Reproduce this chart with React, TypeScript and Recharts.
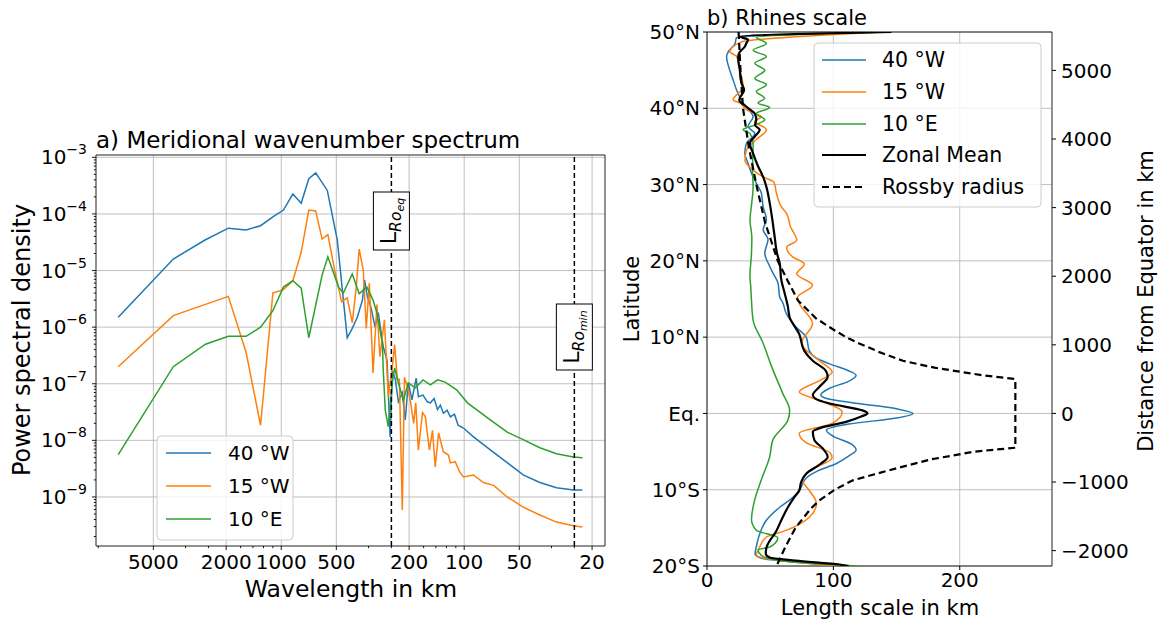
import { LineChart, Line, XAxis, YAxis, CartesianGrid, ReferenceLine, ReferenceArea } from 'recharts'

const FONT = '"DejaVu Sans", Verdana, sans-serif'
const BLUE = '#1f77b4'
const ORANGE = '#ff7f0e'
const GREEN = '#2ca02c'

// ---------- panel a: meridional wavenumber spectrum ----------
const wavelengthTicks = [5000, 2000, 1000, 500, 200, 100, 50, 20]
const psdTicks = [1e-9, 1e-8, 1e-7, 1e-6, 1e-5, 1e-4, 1e-3]
const roLengths = [250, 25]
const roNames = ['eq', 'min']
const spectrumNames = ['40 °W', '15 °W', '10 °E']

// [wavelength km, power spectral density]
const psd40W = [
  [7780, 1.5e-6], [3890, 1.6e-5], [2594, 3.5e-5], [1946, 5.6e-5], [1557, 5.2e-5], [1297, 6.2e-5],
  [1111, 8.9e-5], [973, 1.17e-4], [864, 2.25e-4], [778, 1.55e-4], [707, 4.2e-4], [648, 5.3e-4],
  [560, 2.6e-4], [494, 3.5e-5], [436, 6.5e-7], [409, 9.5e-7], [384, 1.5e-6], [360, 3.0e-6],
  [350, 6.8e-6], [338, 3.4e-6], [324, 2.3e-6], [307, 1.0e-6], [295, 1.8e-6], [277, 4.5e-7],
  [264, 2.6e-7], [254, 1.15e-8], [247, 1.7e-7], [238, 1.2e-7], [229, 4.8e-8], [218, 6.9e-8],
  [210, 2.3e-8], [202, 1.05e-7], [193, 5.2e-8], [183, 1.25e-7], [178, 5.9e-8], [168, 6.3e-8],
  [159, 4.8e-8], [153, 4.6e-8], [146, 5.5e-8], [140, 3.5e-8], [135, 4.2e-8], [130, 3.0e-8],
  [124, 3.4e-8], [119, 2.6e-8], [113, 2.9e-8], [108, 1.85e-8], [101, 1.65e-8], [89, 1.15e-8],
  [72, 6.8e-9], [58, 4.0e-9], [47.6, 2.45e-9], [38.6, 1.8e-9], [31.3, 1.45e-9], [25.3, 1.33e-9],
  [22.6, 1.33e-9],
]
const psd15W = [
  [7780, 2.0e-7], [3890, 1.6e-6], [1946, 3.5e-6], [1557, 3.6e-7], [1297, 1.85e-8], [1111, 4.0e-6],
  [973, 4.6e-6], [864, 6.6e-6], [778, 2.1e-5], [707, 1.17e-4], [648, 1.13e-4], [598, 3.6e-5],
  [556, 4.3e-5], [510, 1.0e-5], [468, 2.8e-6], [436, 3.3e-6], [409, 1.2e-6], [389, 5.1e-6],
  [375, 2.4e-5], [356, 1.0e-5], [343, 9.5e-7], [330, 6.0e-6], [315, 1.55e-7], [300, 2.5e-6],
  [289, 3.0e-7], [273, 1.35e-6], [260, 5.9e-8], [247, 2.0e-7], [240, 4.9e-7], [232, 1.2e-7],
  [226, 1.2e-7], [218, 5.9e-10], [212, 1.3e-7], [204, 8.7e-8], [196, 4.6e-8], [189, 2.0e-8],
  [184, 4.6e-8], [178, 6.7e-9], [169, 3.1e-8], [163, 2.6e-8], [155, 6.7e-9], [149, 1.5e-8],
  [144, 3.4e-9], [138, 1.35e-8], [130, 6.3e-9], [122, 5.5e-9], [119, 4.0e-9], [112, 4.2e-9],
  [106, 2.8e-9], [101, 2.25e-9], [89, 2.45e-9], [78.5, 1.8e-9], [69, 1.6e-9], [58.2, 1.0e-9],
  [47.6, 6.6e-10], [38.6, 4.8e-10], [31.3, 3.6e-10], [25.3, 3.1e-10], [22.6, 2.95e-10],
]
const psd10E = [
  [7780, 5.6e-9], [3890, 2.0e-7], [2594, 5.0e-7], [1946, 6.9e-7], [1557, 6.9e-7], [1297, 1.0e-6],
  [1111, 1.95e-6], [973, 5.1e-6], [864, 6.6e-6], [778, 4.9e-6], [707, 6.5e-7], [598, 8.3e-6],
  [556, 1.75e-5], [486, 5.1e-6], [458, 4.0e-6], [409, 8.7e-6], [375, 3.9e-6], [340, 5.1e-6],
  [315, 3.0e-6], [300, 1.8e-6], [280, 5.2e-7], [277, 1.75e-7], [270, 3.4e-8], [260, 1.75e-8],
  [247, 1.07e-7], [240, 1.9e-7], [229, 1.03e-7], [215, 5.1e-8], [202, 1.03e-7], [185, 8.5e-8],
  [168, 1.17e-7], [153, 9.6e-8], [140, 1.17e-7], [127, 1.07e-7], [110, 7.8e-8], [96, 4.6e-8],
  [72, 2.3e-8], [58.2, 1.4e-8], [47.6, 1.03e-8], [38.6, 7.4e-9], [31.3, 5.8e-9], [25.3, 5.1e-9],
  [22.6, 4.95e-9],
]

// ---------- panel b: Rhines scale ----------
const latTicks = [-20, -10, 0, 10, 20, 30, 40, 50]
const latLabels = ['20°S', '10°S', 'Eq.', '10°N', '20°N', '30°N', '40°N', '50°N']
const lengthTicks = [0, 100, 200]
const distTicks = [-2000, -1000, 0, 1000, 2000, 3000, 4000, 5000]
const rhinesNames = ['40 °W', '15 °W', '10 °E', 'Zonal Mean', 'Rossby radius']

// [latitude, length scale km]
const rhines40W = [
  [50, 142], [49.3, 23.4], [48.4, 22], [47.4, 16.8], [46.8, 15.5], [45, 18], [43.7, 20.7], [42.4, 23.4],
  [40.7, 28.6], [39.8, 33], [38.9, 36.5], [37.6, 32.5], [36.7, 37.8], [35.4, 31.2], [34.1, 29.9],
  [32.8, 32.5], [31.5, 35.2], [30.2, 39], [28.9, 43], [27.1, 44.4], [25.4, 47], [24.1, 44.4],
  [22.8, 48.3], [21, 45.7], [19.3, 49.6], [18.4, 52.2], [17.1, 56.2], [15.3, 57.5], [14.5, 60],
  [13.1, 62.7], [11.3, 70.6], [10, 78.5], [8.2, 81], [7.3, 86], [6.5, 97], [5.6, 112], [5.0, 118],
  [4.2, 112], [3.3, 97], [2.4, 90], [2.0, 94], [1.4, 115], [0.6, 150], [0, 163], [-0.6, 150],
  [-1.4, 112], [-2.2, 94.5], [-3.0, 100], [-4.0, 114], [-4.8, 118], [-5.6, 112], [-6.6, 102],
  [-7.5, 88], [-8.4, 79], [-10.1, 73], [-11, 68], [-12.3, 57.5], [-14, 47], [-15.8, 41.7],
  [-17.5, 39], [-18.4, 38], [-19, 43], [-19.5, 70], [-20, 108],
]
const rhines15W = [
  [50, 141], [48.7, 27.3], [47.4, 18], [46.8, 23.4], [45, 26], [42.8, 28.6], [41.1, 20.7], [40.7, 26],
  [39.8, 31.2], [38.9, 43], [38.3, 37.8], [37.2, 47], [35.9, 39], [34.5, 31.2], [33.2, 30],
  [31.9, 36.5], [31, 44.4], [30.3, 53], [28.9, 54.9], [27.1, 58.8], [26.2, 63], [24.5, 66],
  [22.7, 71], [21.8, 63], [20.5, 68], [19.6, 77], [18.3, 71], [16.8, 83.5], [15.2, 71.6],
  [14.4, 73], [11.8, 83.5], [9.2, 74.8], [6.9, 89], [5.4, 99], [4.3, 89], [2.8, 73], [1.7, 89],
  [0.2, 107], [-1.3, 99], [-2.6, 73], [-3.9, 79], [-5.1, 97], [-5.8, 99], [-7.5, 81], [-8.8, 75.6],
  [-10.1, 81], [-11.8, 86.6], [-13.6, 81], [-15.3, 63], [-16.2, 47], [-17.5, 41.7], [-18.6, 39],
  [-18.9, 43], [-19.5, 70], [-20, 105],
]
const rhines10E = [
  [50, 139], [49.3, 39], [48.5, 47], [47.6, 36.5], [46.8, 47], [45.9, 37.8], [45, 45.7], [43.9, 37.8],
  [43.1, 47], [42.2, 39], [41.3, 45.7], [40.7, 40.4], [40.1, 49.6], [39.3, 39], [38.5, 45.7],
  [37.8, 37.8], [37.2, 28.6], [36.7, 34], [35.4, 36.5], [32, 36], [29.7, 36.5], [27, 35], [25.4, 34],
  [23, 35.5], [21, 35.2], [18, 34], [16.6, 34.6], [14.8, 35.2], [12.2, 36.5], [9.2, 44.4], [6.2, 51],
  [2.6, 60], [0.4, 65.4], [-0.9, 64], [-3.5, 52], [-5.7, 49.6], [-8.7, 43], [-11.3, 37.8],
  [-13.9, 35.2], [-15.3, 39], [-16.3, 56], [-17, 54], [-17.5, 49.6], [-17.9, 40.4], [-18.6, 43],
  [-19.3, 60], [-20, 119],
]
const rhinesMean = [
  [50, 146], [49.4, 26], [49.0, 32.5], [48.5, 31], [48.1, 30], [47.4, 26], [46.8, 24.7], [46, 25],
  [45, 26], [44, 26.5], [43.3, 27.3], [42.4, 29.4], [41.1, 25.5], [40.2, 31.2], [39.3, 37.8],
  [38.5, 39], [37.8, 38], [37.2, 41.7], [36.3, 37.8], [35.4, 33.9], [34.1, 36.5], [32.4, 40.4],
  [31, 44.4], [29.7, 47], [27.6, 49.6], [25.4, 51.7], [23.2, 53.5], [21, 55.4], [19.7, 57.5],
  [17.5, 58.8], [15.8, 61.4], [14, 64], [12.6, 65.4], [10.4, 73], [8.2, 77], [6.9, 83.7], [5.6, 94],
  [4.8, 95.5], [3.5, 89], [2.4, 83.7], [1.9, 86], [1.3, 97], [0.4, 123], [0, 127], [-0.4, 122],
  [-1.1, 110], [-1.8, 91.6], [-2.4, 83.7], [-3.5, 85], [-4.6, 91.6], [-5.7, 95.5], [-6.6, 90],
  [-7.9, 78.5], [-9.0, 74.5], [-10.1, 73], [-11, 69], [-12.3, 64], [-14, 58.8], [-15.8, 53.5],
  [-16.7, 49.6], [-17.6, 47], [-18.4, 46.5], [-18.9, 49.6], [-19.3, 70], [-19.8, 105], [-20, 112],
]
const rossbyRadius = [
  [50, 25], [45, 26.5], [40, 28.5], [35, 33], [30, 39], [25, 46], [20, 56], [17.5, 63.5], [14.8, 72],
  [12.5, 86], [11.1, 99], [10, 110], [9.2, 120], [8, 137], [6.9, 155], [6, 180], [5, 218], [4.5, 244],
  [-4.5, 244], [-5, 212], [-6, 178], [-7.1, 152], [-8, 132], [-8.8, 115], [-10, 101], [-11.4, 89],
  [-12.5, 82], [-15, 70], [-17.5, 62], [-20, 55],
]

const toPsd = (rows: number[][]) => rows.map(([wl, p]) => ({ wl, p }))
const toRhines = (rows: number[][]) => rows.map(([lat, km]) => ({ lat, km }))

const minorPsd = [-10, -9, -8, -7, -6, -5, -4]
  .flatMap((d) => [2, 3, 4, 5, 6, 7, 8, 9].map((m) => m * Math.pow(10, d)))
  .filter((v) => v > 1.36e-10 && v < 1.1e-3)
const minorWl = [10000, 1000, 100]
  .flatMap((d) => [1, 2, 3, 4, 5, 6, 7, 8, 9].map((m) => d / m))
  .filter((v) => v >= 17 && v <= 10290 && !wavelengthTicks.includes(v))

const PsdTick = (props: any) => {
  const { x, y, payload } = props
  const v = payload.value
  const exp = Math.round(Math.log10(v))
  const major = Math.abs(v - Math.pow(10, exp)) < 1e-6 * v
  return (
    <g>
      <line x1={x - (major ? 4 : 2.2)} x2={x} y1={y} y2={y} stroke="#000" strokeWidth={0.9} />
      {major && (
        <text x={x - 9} y={y + 7} textAnchor="end" fontSize={20} fontFamily={FONT} fill="#000">
          10<tspan dy={-10} fontSize={14}>{`−${-exp}`}</tspan>
        </text>
      )}
    </g>
  )
}

const WlTick = (props: any) => {
  const { x, y, payload } = props
  const v = payload.value
  const major = wavelengthTicks.includes(v)
  return (
    <g>
      <line x1={x} x2={x} y1={y} y2={y + (major ? 4 : 2.2)} stroke="#000" strokeWidth={0.9} />
      {major && (
        <text x={x} y={y + 23} textAnchor="middle" fontSize={20} fontFamily={FONT} fill="#000">
          {v}
        </text>
      )}
    </g>
  )
}

const RoLabel = (props: any) => {
  const { viewBox, sub, center, h } = props
  const cx = viewBox.x
  const cy = viewBox.y + center
  return (
    <g>
      <rect x={cx - 18} y={cy - h / 2} width={36} height={h} fill="#fff" stroke="#000" strokeWidth={1} />
      <text transform={`translate(${cx + 5},${cy}) rotate(-90)`} textAnchor="middle" fontFamily={FONT} fontSize={22} fill="#000">
        L<tspan fontSize={15.5} fontStyle="italic" dy={5}>Ro</tspan>
        <tspan fontSize={11} fontStyle="italic" dy={3}>{sub}</tspan>
      </text>
    </g>
  )
}

const tickStyle = { fill: '#000', fontSize: 20, fontFamily: FONT }
const fmtDist = (v: number) => (v < 0 ? `−${-v}` : `${v}`)
const fmtLat = (v: number) => latLabels[latTicks.indexOf(v)] ?? ''

export default function App() {
  const spectra = [psd40W, psd15W, psd10E]
  const spectraColors = [BLUE, ORANGE, GREEN]
  const rhines = [rhines40W, rhines15W, rhines10E, rhinesMean, rossbyRadius]
  const rhinesColors = [BLUE, ORANGE, GREEN, '#000', '#000']
  const rhinesWidths = [1.5, 1.5, 1.5, 2.2, 2.2]
  const rhinesDash = [undefined, undefined, undefined, undefined, '7 4']
  const rowsA = [453, 486, 519]
  const rowsB = [60, 92, 124, 155, 187]
  // the distance axis carries no series of its own; a hidden line spans its range
  const distSpan = distTicks.map((dist) => ({ dist, km: 0 }))

  return (
    <div style={{ position: 'absolute', left: 0, top: 0, width: 1158, height: 622, background: '#fff', fontFamily: FONT }}>
      <div style={{ position: 'absolute', left: 0, top: 0 }}>
        <LineChart width={620} height={622} margin={{ top: 155, right: 15, bottom: 0, left: 0 }}>
          <CartesianGrid stroke="#b0b0b0" strokeWidth={0.8} horizontalValues={psdTicks} verticalValues={wavelengthTicks} />
          <XAxis
            dataKey="wl"
            type="number"
            scale="log"
            domain={[17, 10290]}
            allowDataOverflow
            reversed
            ticks={[...wavelengthTicks, ...minorWl]}
            interval={0}
            tickSize={0}
            tickMargin={0}
            tickLine={false}
            axisLine={false}
            height={76}
            tick={<WlTick />}
          />
          <YAxis
            type="number"
            scale="log"
            domain={[1.36e-10, 1.1e-3]}
            allowDataOverflow
            ticks={[...psdTicks, ...minorPsd]}
            interval={0}
            tickSize={0}
            tickMargin={0}
            tickLine={false}
            axisLine={false}
            width={96}
            tick={<PsdTick />}
          />
          {spectra.map((rows, i) => (
            <Line
              key={spectrumNames[i]}
              data={toPsd(rows)}
              dataKey="p"
              type="linear"
              stroke={spectraColors[i]}
              strokeWidth={1.5}
              dot={false}
              isAnimationActive={false}
            />
          ))}
          {roLengths.map((km, i) => (
            <ReferenceLine
              key={km}
              x={km}
              stroke="#000"
              strokeWidth={1.5}
              strokeDasharray="5 3"
              label={<RoLabel sub={roNames[i]} center={i === 0 ? 66 : 182} h={i === 0 ? 58 : 66} />}
            />
          ))}
          <ReferenceArea x1={17} x2={10290} y1={1.36e-10} y2={1.1e-3} fill="none" stroke="#222" strokeWidth={1} ifOverflow="visible" />
        </LineChart>
      </div>

      <div style={{ position: 'absolute', left: 610, top: 0 }}>
        <LineChart layout="vertical" width={548} height={622} margin={{ top: 32, right: 0, bottom: 0, left: 0 }}>
          <CartesianGrid stroke="#b0b0b0" strokeWidth={0.8} horizontalValues={latTicks} verticalValues={lengthTicks} />
          <XAxis
            type="number"
            dataKey="km"
            domain={[0, 273]}
            allowDataOverflow
            ticks={lengthTicks}
            interval={0}
            height={56}
            tickSize={4}
            tickMargin={3}
            axisLine={false}
            tickLine={{ stroke: '#000' }}
            tick={tickStyle}
          />
          <YAxis
            type="number"
            dataKey="lat"
            domain={[-20, 50]}
            allowDataOverflow
            reversed
            ticks={latTicks}
            interval={0}
            width={97}
            tickSize={4}
            tickMargin={3}
            axisLine={false}
            tickLine={{ stroke: '#000' }}
            tick={tickStyle}
            tickFormatter={fmtLat}
          />
          <YAxis
            yAxisId="dist"
            dataKey="dist"
            orientation="right"
            type="number"
            domain={[-2224, 5560]}
            allowDataOverflow
            includeHidden
            reversed
            ticks={distTicks}
            interval={0}
            width={106}
            tickSize={4}
            tickMargin={5}
            axisLine={false}
            tickLine={{ stroke: '#000' }}
            tick={tickStyle}
            tickFormatter={fmtDist}
          />
          <Line yAxisId="dist" data={distSpan} dataKey="km" hide stroke="none" dot={false} isAnimationActive={false} legendType="none" />
          {rhines.map((rows, i) => (
            <Line
              key={rhinesNames[i]}
              data={toRhines(rows)}
              dataKey="km"
              type={i === 4 ? 'linear' : 'monotone'}
              stroke={rhinesColors[i]}
              strokeWidth={rhinesWidths[i]}
              strokeDasharray={rhinesDash[i]}
              dot={false}
              isAnimationActive={false}
            />
          ))}
          <ReferenceArea x1={0} x2={273} y1={-20} y2={50} fill="none" stroke="#222" strokeWidth={1} ifOverflow="visible" />
        </LineChart>
      </div>

      <svg width={1158} height={622} style={{ position: 'absolute', left: 0, top: 0, pointerEvents: 'none' }} fontFamily={FONT}>
        <text x={96} y={148} fontSize={23} fill="#000">a) Meridional wavenumber spectrum</text>
        <text transform="translate(30,340) rotate(-90)" textAnchor="middle" fontSize={24} fill="#000">Power spectral density</text>
        <text x={351} y={597} textAnchor="middle" fontSize={23.5} fill="#000">Wavelength in km</text>

        <rect x={157} y={436} width={136} height={104} rx={4} fill="#fff" fillOpacity={0.8} stroke="#cccccc" />
        {spectrumNames.map((name, i) => (
          <g key={name}>
            <line x1={166} x2={211} y1={rowsA[i]} y2={rowsA[i]} stroke={spectraColors[i]} strokeWidth={1.5} />
            <text x={228} y={rowsA[i] + 7} fontSize={20} fill="#000">{name}</text>
          </g>
        ))}

        <text x={707} y={25} fontSize={21} fill="#000">b) Rhines scale</text>
        <text transform="translate(639,299) rotate(-90)" textAnchor="middle" fontSize={21} fill="#000">Latitude</text>
        <text x={880} y={615} textAnchor="middle" fontSize={21} fill="#000">Length scale in km</text>
        <text transform="translate(1153,301) rotate(-90)" textAnchor="middle" fontSize={21} fill="#000">Distance from Equator in km</text>

        <rect x={814} y={43} width={227} height={164} rx={4} fill="#fff" fillOpacity={0.8} stroke="#cccccc" />
        {rhinesNames.map((name, i) => (
          <g key={name}>
            <line
              x1={822}
              x2={866}
              y1={rowsB[i]}
              y2={rowsB[i]}
              stroke={rhinesColors[i]}
              strokeWidth={rhinesWidths[i]}
              strokeDasharray={rhinesDash[i]}
            />
            <text x={882} y={rowsB[i] + 7} fontSize={20.5} fill="#000">{name}</text>
          </g>
        ))}
      </svg>
    </div>
  )
}
